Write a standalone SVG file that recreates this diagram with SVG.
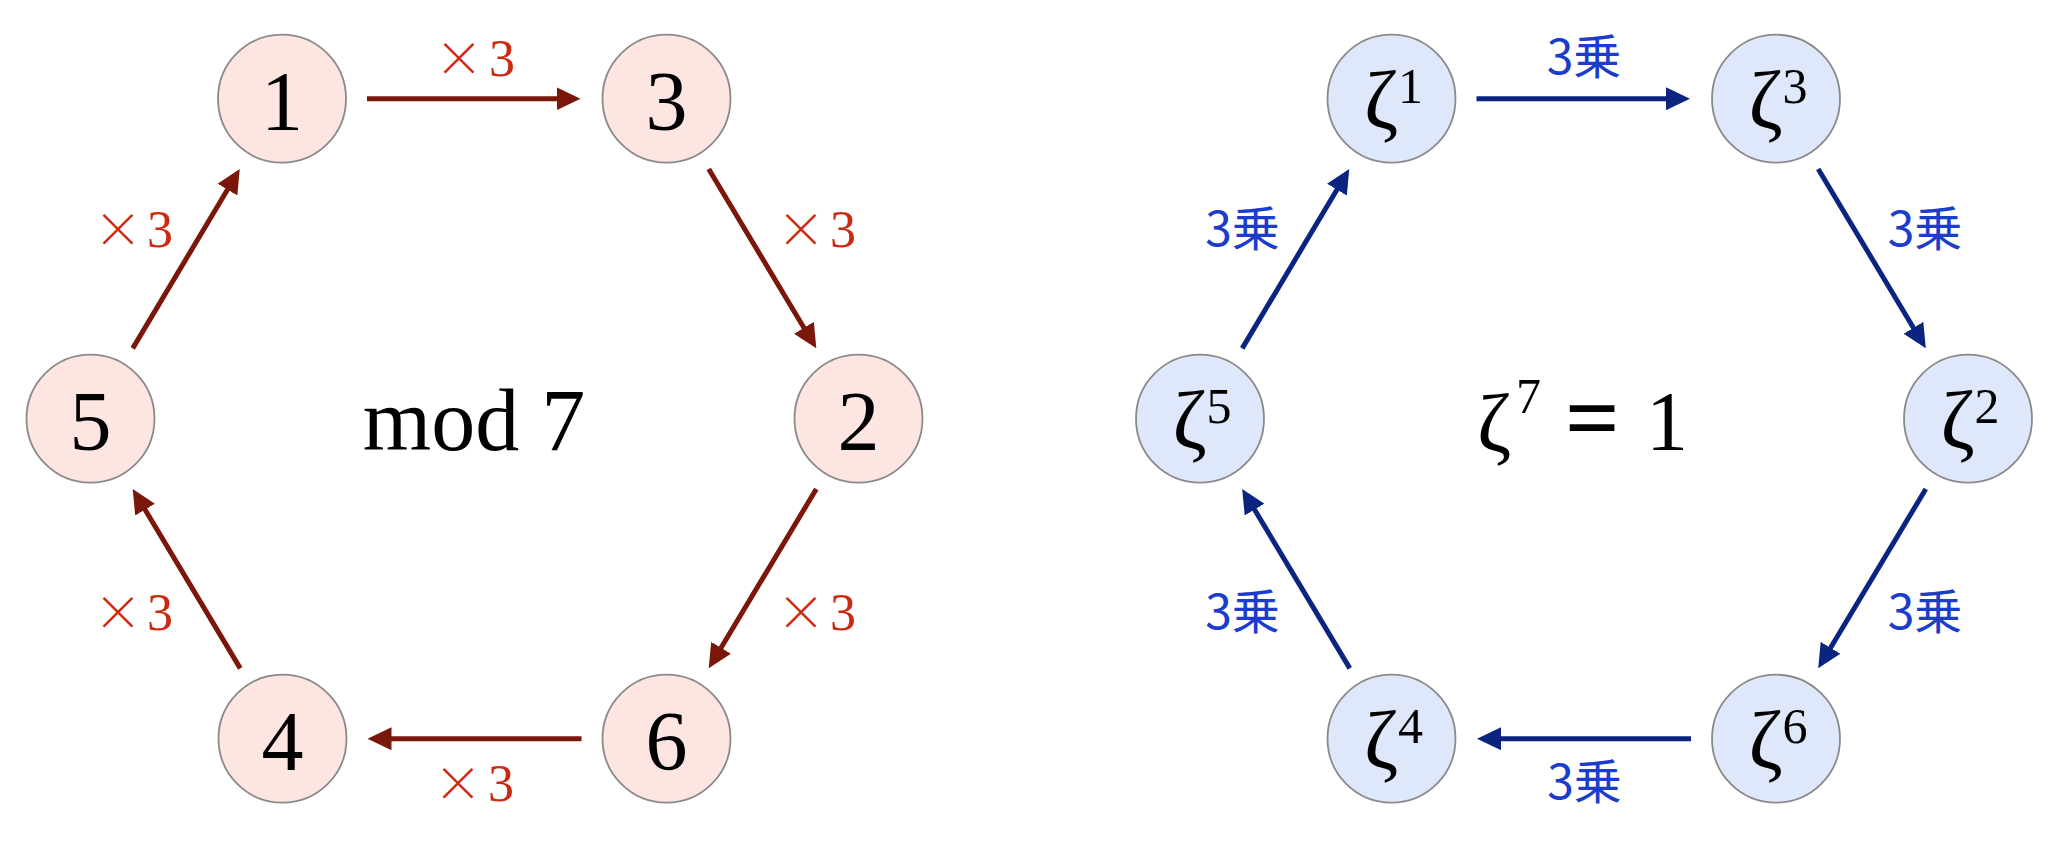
<svg xmlns="http://www.w3.org/2000/svg" width="2048" height="853" viewBox="0 0 2048 853">
<style>
.nl{fill:#fde5e1;stroke:#8a8a8a;stroke-width:1.8}
.nr{fill:#dfe7fb;stroke:#8a8a8a;stroke-width:1.8}
.num{font-family:"Liberation Serif","DejaVu Serif",serif;font-size:84px;fill:#000;text-anchor:middle}
.z{font-family:"Liberation Serif","DejaVu Serif",serif;font-size:83px;fill:#000}
.sup{font-family:"Liberation Serif","DejaVu Serif",serif;font-size:50px}
.cr{stroke:#7a160a;stroke-width:5;fill:none}
.cb{stroke:#0b2480;stroke-width:5;fill:none}
.lr{font-family:"Liberation Serif","DejaVu Serif",serif;font-size:52px;fill:#cc2a10;text-anchor:middle}
.lx{font-family:"Noto Sans CJK JP","Noto Sans",sans-serif;font-size:48px;font-weight:300}
.lb{font-family:"Noto Sans CJK JP","Noto Sans CJK SC",sans-serif;font-size:48px;fill:#1c3ccc;text-anchor:middle}
.big{font-family:"Liberation Serif","DejaVu Serif",serif;font-size:88px;fill:#000}
</style>
<defs>
<marker id="ar" markerUnits="userSpaceOnUse" markerWidth="24" markerHeight="23" refX="4" refY="11.5" orient="auto" viewBox="0 0 24 23"><path d="M0,0L24,11.5L0,23z" fill="#7a160a"/></marker>
<marker id="ab" markerUnits="userSpaceOnUse" markerWidth="24" markerHeight="23" refX="4" refY="11.5" orient="auto" viewBox="0 0 24 23"><path d="M0,0L24,11.5L0,23z" fill="#0b2480"/></marker>
</defs>
<rect width="2048" height="853" fill="#fff"/>
<g id="connectors">
<line class="cr" x1="367" y1="98.7" x2="560.5" y2="98.7" marker-end="url(#ar)"/>
<line class="cr" x1="708.7" y1="169" x2="806" y2="331.2" marker-end="url(#ar)"/>
<line class="cr" x1="816.3" y1="489" x2="719" y2="651.2" marker-end="url(#ar)"/>
<line class="cr" x1="581.5" y1="738.7" x2="387.5" y2="738.7" marker-end="url(#ar)"/>
<line class="cr" x1="240.3" y1="668.4" x2="143" y2="506.2" marker-end="url(#ar)"/>
<line class="cr" x1="132.7" y1="348.4" x2="229.5" y2="186.2" marker-end="url(#ar)"/>
<line class="cb" x1="1476.5" y1="98.7" x2="1670" y2="98.7" marker-end="url(#ab)"/>
<line class="cb" x1="1818.2" y1="169" x2="1915.5" y2="331.2" marker-end="url(#ab)"/>
<line class="cb" x1="1925.8" y1="489" x2="1828.5" y2="651.2" marker-end="url(#ab)"/>
<line class="cb" x1="1691" y1="738.7" x2="1497" y2="738.7" marker-end="url(#ab)"/>
<line class="cb" x1="1349.8" y1="668.4" x2="1252.5" y2="506.2" marker-end="url(#ab)"/>
<line class="cb" x1="1242.2" y1="348.4" x2="1339" y2="186.2" marker-end="url(#ab)"/>
<text class="lr"><tspan class="lx" x="459" y="76">×</tspan><tspan x="502" y="76">3</tspan></text>
<text class="lr"><tspan class="lx" x="801" y="247">×</tspan><tspan x="843" y="247">3</tspan></text>
<text class="lr"><tspan class="lx" x="801" y="630">×</tspan><tspan x="843" y="630">3</tspan></text>
<text class="lr"><tspan class="lx" x="458" y="801">×</tspan><tspan x="501" y="801">3</tspan></text>
<text class="lr"><tspan class="lx" x="118" y="630">×</tspan><tspan x="160" y="630">3</tspan></text>
<text class="lr"><tspan class="lx" x="118" y="247">×</tspan><tspan x="160" y="247">3</tspan></text>
<text class="lb" x="1584" y="74">3乗</text>
<text class="lb" x="1925" y="246">3乗</text>
<text class="lb" x="1925" y="629">3乗</text>
<text class="lb" x="1584.5" y="799">3乗</text>
<text class="lb" x="1242.5" y="629">3乗</text>
<text class="lb" x="1242.5" y="246">3乗</text>
</g>
<g id="n1"><circle class="nl" cx="282" cy="98.7" r="64"/><text class="num" x="282" y="130">1</text></g>
<g id="n3"><circle class="nl" cx="666.5" cy="98.7" r="64"/><text class="num" x="666.5" y="130">3</text></g>
<g id="n2"><circle class="nl" cx="858.5" cy="418.7" r="64"/><text class="num" x="858.5" y="450">2</text></g>
<g id="n6"><circle class="nl" cx="666.5" cy="738.7" r="64"/><text class="num" x="666.5" y="770">6</text></g>
<g id="n4"><circle class="nl" cx="282.5" cy="738.7" r="64"/><text class="num" x="282.5" y="770">4</text></g>
<g id="n5"><circle class="nl" cx="90.5" cy="418.7" r="64"/><text class="num" x="90.5" y="450">5</text></g>
<g id="mod7"><text class="big" x="474" y="450" text-anchor="middle">mod 7</text></g>
<g id="z1"><circle class="nr" cx="1391.5" cy="98.7" r="64"/><text class="z" x="1364" y="127.5">ζ<tspan class="sup" x="1398" y="103">1</tspan></text></g>
<g id="z3"><circle class="nr" cx="1776" cy="98.7" r="64"/><text class="z" x="1748.5" y="127.5">ζ<tspan class="sup" x="1782.5" y="103">3</tspan></text></g>
<g id="z2"><circle class="nr" cx="1968" cy="418.7" r="64"/><text class="z" x="1940.5" y="447.5">ζ<tspan class="sup" x="1974.5" y="423">2</tspan></text></g>
<g id="z6"><circle class="nr" cx="1776" cy="738.7" r="64"/><text class="z" x="1748.5" y="767.5">ζ<tspan class="sup" x="1782.5" y="743">6</tspan></text></g>
<g id="z4"><circle class="nr" cx="1391.5" cy="738.7" r="64"/><text class="z" x="1364" y="767.5">ζ<tspan class="sup" x="1398" y="743">4</tspan></text></g>
<g id="z5"><circle class="nr" cx="1200" cy="418.7" r="64"/><text class="z" x="1172.5" y="447.5">ζ<tspan class="sup" x="1206.5" y="423">5</tspan></text></g>
<g id="zeq"><text class="z" x="1477" y="451">ζ<tspan class="sup" font-size="40" x="1516" y="413">7</tspan><tspan font-weight="bold" font-size="96" x="1565" y="450">=</tspan><tspan font-size="84" x="1646" y="450">1</tspan></text></g>
</svg>
